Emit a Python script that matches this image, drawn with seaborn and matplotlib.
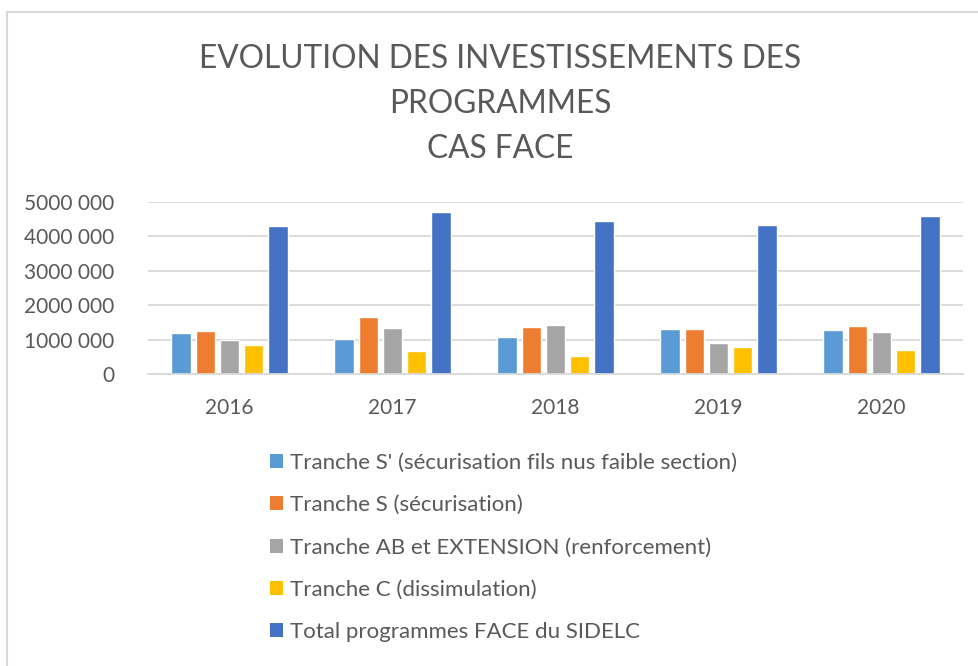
import matplotlib
matplotlib.use("Agg")
import matplotlib.pyplot as plt
import seaborn as sns
import pandas as pd
from matplotlib.lines import Line2D
from matplotlib.patches import Rectangle

years = ["2016", "2017", "2018", "2019", "2020"]
series = [
    "Tranche S' (sécurisation fils nus faible section)",
    "Tranche S (sécurisation)",
    "Tranche AB et EXTENSION (renforcement)",
    "Tranche C (dissimulation)",
    "Total programmes FACE du SIDELC",
]
tranche_s_prime = [1180000, 1025000, 1065000, 1300000, 1270000]
tranche_s = [1245000, 1660000, 1370000, 1320000, 1380000]
tranche_ab = [985000, 1330000, 1430000, 900000, 1215000]
tranche_c = [830000, 655000, 530000, 770000, 685000]
total = [4285000, 4710000, 4440000, 4330000, 4585000]
colors = ["#5B9BD5", "#ED7D31", "#A5A5A5", "#FFC000", "#4472C4"]
y_ticks = [0, 1000000, 2000000, 3000000, 4000000, 5000000]
y_tick_labels = ["0", "1000 000", "2000 000", "3000 000", "4000 000", "5000 000"]
title = "EVOLUTION DES INVESTISSEMENTS DES\nPROGRAMMES\nCAS FACE"

values = [tranche_s_prime, tranche_s, tranche_ab, tranche_c, total]
rows = []
for s, vals in zip(series, values):
    for y, v in zip(years, vals):
        rows.append({"year": y, "series": s, "value": v})
df = pd.DataFrame(rows)

sns.set_theme(style="white")
plt.rcParams["font.family"] = ["Lato", "DejaVu Sans"]
TXT = "#595959"

fig = plt.figure(figsize=(9.79, 6.66), dpi=100)
W, H = 979, 666
ax = fig.add_axes([148 / W, 1 - 374 / H, (963 - 148) / W, (374 - 201.7) / H])

sns.barplot(data=df, x="year", y="value", hue="series", hue_order=series,
            order=years, palette=colors, width=0.74, gap=0.19,
            saturation=1, ax=ax, legend=False, errorbar=None)

ax.set_ylim(0, 5000000)
ax.set_xlim(-0.5, len(years) - 0.5)
ax.set_yticks(y_ticks)
ax.set_yticklabels(y_tick_labels)
ax.yaxis.grid(True, color="#D9D9D9", linewidth=1.3)
ax.set_axisbelow(True)
for sp in ["top", "right", "left"]:
    ax.spines[sp].set_visible(False)
ax.spines["bottom"].set_color("#D9D9D9")
ax.spines["bottom"].set_linewidth(1.3)
ax.tick_params(axis="both", length=0, labelsize=15, colors=TXT)
ax.tick_params(axis="y", pad=24)
ax.tick_params(axis="x", pad=17)
ax.set_xlabel("")
ax.set_ylabel("")

fig.text(500 / W, 1 - 104 / H, title, ha="center", va="center",
         fontsize=22.8, color=TXT, linespacing=1.64)

handles = [Rectangle((0, 0), 1, 1, facecolor=c, edgecolor="none") for c in colors]
leg = fig.legend(handles, series, loc="upper left",
                 bbox_to_anchor=(250 / W, 1 - 433 / H), frameon=False,
                 fontsize=16, labelcolor=TXT, handlelength=0.6,
                 handleheight=0.6, handletextpad=0.3, labelspacing=1.0)

# chart border (left and top visible)
fig.add_artist(Line2D([7 / W, 7 / W], [0, 1 - 12 / H], color="#D9D9D9",
                      linewidth=1.5, transform=fig.transFigure))
fig.add_artist(Line2D([7 / W, 1], [1 - 12 / H, 1 - 12 / H], color="#D9D9D9",
                      linewidth=1.5, transform=fig.transFigure))

fig.savefig("out.png", dpi=100)
